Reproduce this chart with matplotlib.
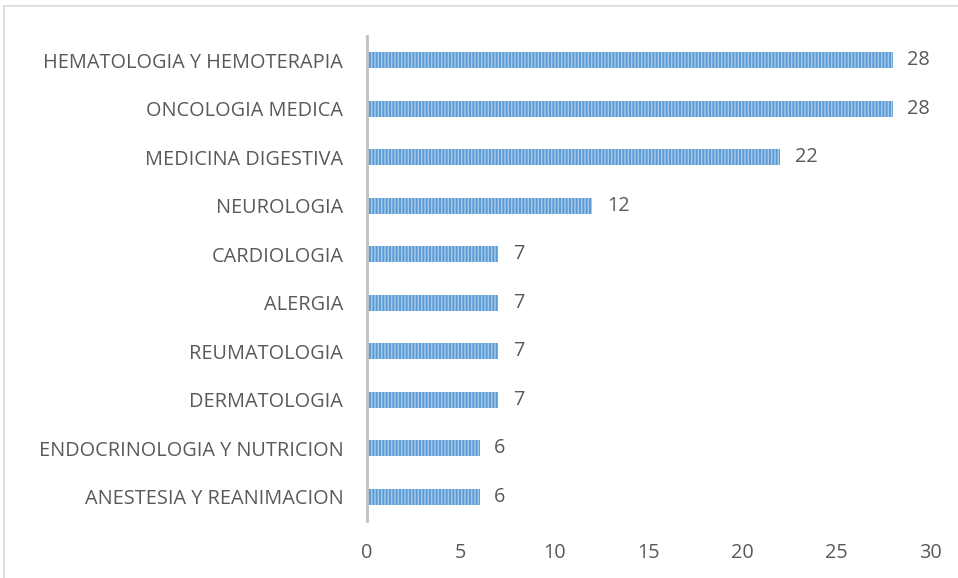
import matplotlib.pyplot as plt
from matplotlib.patches import Rectangle

# data (top to bottom as in the chart)
servicios = ["HEMATOLOGIA Y HEMOTERAPIA", "ONCOLOGIA MEDICA", "MEDICINA DIGESTIVA",
             "NEUROLOGIA", "CARDIOLOGIA", "ALERGIA", "REUMATOLOGIA", "DERMATOLOGIA",
             "ENDOCRINOLOGIA Y NUTRICION", "ANESTESIA Y REANIMACION"]
valores = [28, 28, 22, 12, 7, 7, 7, 7, 6, 6]
xticks = [0, 5, 10, 15, 20, 25, 30]

plt.rcParams['font.family'] = ['Open Sans', 'DejaVu Sans']
plt.rcParams['hatch.linewidth'] = 1.0
txt = '#595959'
fs = 14.3

fig = plt.figure(figsize=(9.58, 5.78), dpi=100)
ax = fig.add_axes([0.383, 0.0986, 0.588, 0.839])

# outer chart frame
fig.patches.append(Rectangle((0.004, -0.01), 1.0, 1.0, transform=fig.transFigure,
                             fill=False, edgecolor='#D9D9D9', linewidth=1.2))

ypos = list(range(len(servicios)))[::-1]
ax.barh(ypos, valores, height=0.33, color='#5B9BD5', edgecolor='#A9CBEB',
        hatch='|||||', linewidth=0)

for y, v in zip(ypos, valores):
    ax.annotate(str(v), (v, y), xytext=(10.5, 0), textcoords='offset points',
                va='center', ha='left', fontsize=fs, color=txt)

ax.set_yticks(ypos)
ax.set_yticklabels(servicios, fontsize=fs, color=txt)
ax.set_xticks(xticks)
ax.set_xticklabels([str(t) for t in xticks], fontsize=fs, color=txt)
ax.set_xlim(0, 30)
ax.set_ylim(-0.5, len(servicios) - 0.5)
ax.tick_params(axis='both', length=0)
ax.tick_params(axis='y', pad=17)
ax.tick_params(axis='x', pad=16)
for s in ['top', 'right', 'bottom']:
    ax.spines[s].set_visible(False)
ax.spines['left'].set_color('#BFBFBF')
ax.spines['left'].set_linewidth(2)

fig.savefig('out.png', dpi=100)
